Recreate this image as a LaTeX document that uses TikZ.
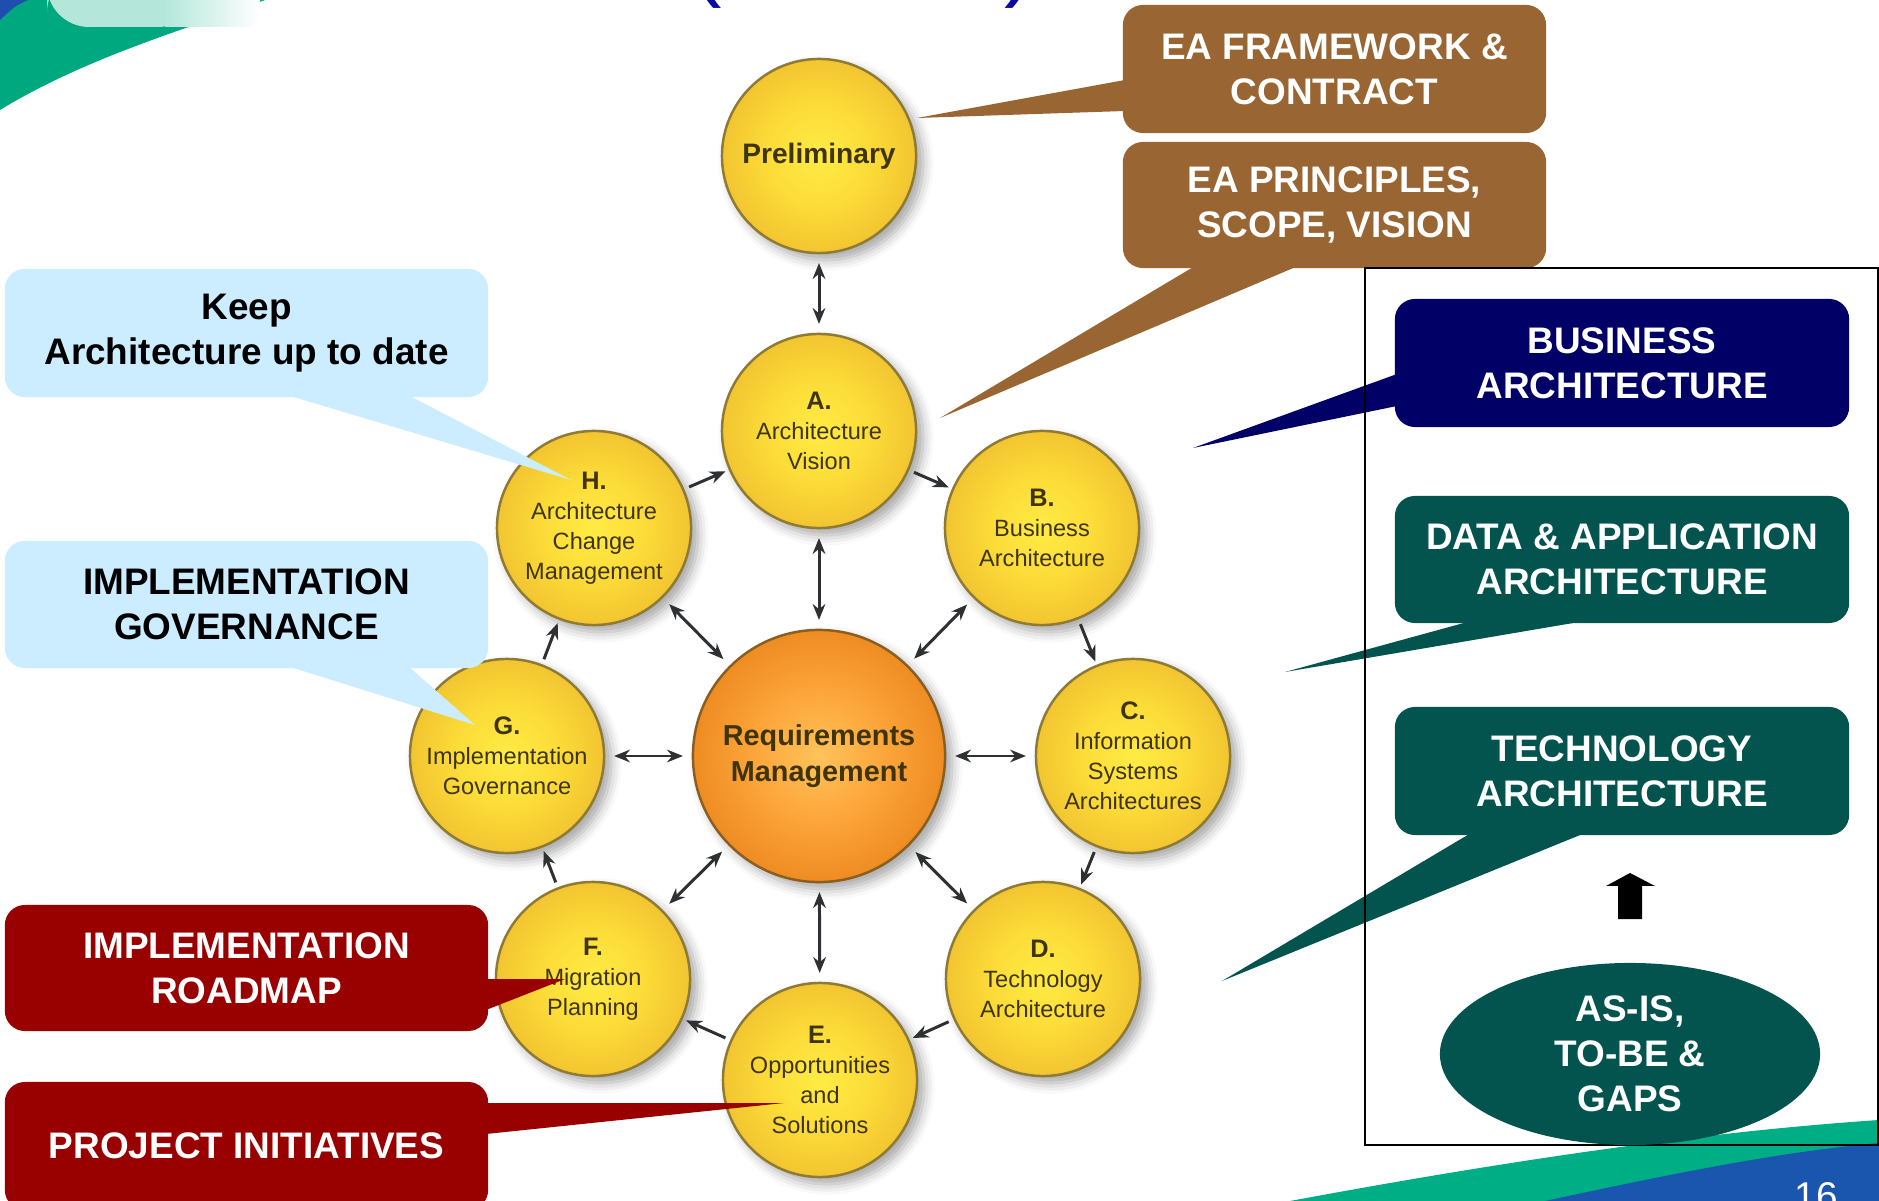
\documentclass[tikz,border=0pt]{standalone}
\usepackage{fontspec}
\setmainfont{Liberation Sans}
\usetikzlibrary{arrows.meta,shapes.geometric,shadows.blur}
\definecolor{eabrown}{HTML}{996633}
\definecolor{keepblue}{HTML}{CCECFF}
\definecolor{darkred}{HTML}{990000}
\definecolor{navyc}{HTML}{000066}
\definecolor{tealc}{HTML}{03544F}
\definecolor{circedge}{HTML}{8C7A35}
\definecolor{circtext}{HTML}{3F3408}
\definecolor{ballin}{HTML}{FFEB45}
\definecolor{ballmid}{HTML}{FCDC38}
\definecolor{ballout}{HTML}{F2C531}
\definecolor{reqin}{HTML}{FFC35A}
\definecolor{reqmid}{HTML}{FCA53A}
\definecolor{reqout}{HTML}{EE8C22}
\definecolor{reqedge}{HTML}{8A5E20}
\definecolor{arrowgray}{HTML}{2E3033}
\definecolor{swgreen}{HTML}{00AE85}
\definecolor{tlgreen}{HTML}{00A880}
\definecolor{swblue}{HTML}{1A56AD}
\definecolor{cornerblue}{HTML}{1E4FB0}
\definecolor{paleteal}{HTML}{B4E7DA}
\definecolor{titleblue}{HTML}{0A0AA0}
\pgfdeclareradialshading{ballsh}{\pgfpoint{0bp}{0bp}}{color(0bp)=(ballin); color(13bp)=(ballmid); color(25bp)=(ballout); color(50bp)=(ballout)}
\pgfdeclareradialshading{reqsh}{\pgfpoint{0bp}{0bp}}{color(0bp)=(reqin); color(13bp)=(reqmid); color(25bp)=(reqout); color(50bp)=(reqout)}
\begin{document}
\begin{tikzpicture}[x=0.01cm, y=-0.01cm,
  sat/.style={circle, minimum size=1.94cm, inner sep=0pt, draw=circedge, line width=0.7pt,
    shade, shading=ballsh,
    blur shadow={shadow xshift=2pt, shadow yshift=-2pt, shadow blur radius=3pt, shadow opacity=35},
    text=circtext, align=center, font=\fontsize{6.7}{8.5}\selectfont},
  req/.style={sat, minimum size=2.52cm, draw=reqedge, shading=reqsh,
    font=\bfseries\fontsize{8.2}{10.2}\selectfont},
  arr/.style={-{Stealth[length=4.5pt,width=3.6pt]}, line width=0.85pt, draw=arrowgray,
    shorten <=1.5pt, shorten >=1pt},
  dblarr/.style={{Stealth[length=4.5pt,width=3.6pt]}-{Stealth[length=4.5pt,width=3.6pt]},
    line width=0.85pt, draw=arrowgray, shorten <=2.5pt, shorten >=2.5pt},
  callout/.style={rounded corners=0.2cm, inner sep=0pt, align=center,
    font=\bfseries\fontsize{10.5}{12.8}\selectfont},
  leftbox/.style={callout, minimum width=4.83cm, minimum height=1.27cm},
  rightbox/.style={callout, minimum width=4.54cm, minimum height=1.28cm, text=white},
  topbox/.style={callout, minimum width=4.23cm, minimum height=1.27cm, text=white, fill=eabrown}
]
\useasboundingbox (0,0) rectangle (1879,1201);
\clip (0,0) rectangle (1879,1201);

% ---- background decorations ----
\fill[tlgreen] (0,0) -- (265,0) .. controls (200,25) and (90,55) .. (0,110) -- cycle;
\fill[cornerblue] (0,0) -- (28,0) .. controls (15,6) .. (0,20) -- cycle;
\fill[paleteal, rounded corners=12] (47,-30) rectangle (200,27);
\shade[left color=paleteal, right color=white] (165,-30) rectangle (260,27);
\node[anchor=south, inner sep=0pt, text=titleblue, font=\fontsize{26}{28}\selectfont] (lpar) at (707,9) {(};
\node[anchor=south, inner sep=0pt, text=titleblue, font=\fontsize{26}{28}\selectfont] (rpar) at (1020,9) {)};
\fill[swgreen] (1290,1201) .. controls (1500,1162) and (1700,1132) .. (1879,1120) -- (1879,1201) -- cycle;
\fill[swblue] (1545,1201) .. controls (1680,1172) and (1780,1152) .. (1879,1143) -- (1879,1201) -- cycle;
\node[anchor=base, inner sep=0pt, text=white, font=\fontsize{11}{13}\selectfont] (pg) at (1816,1209) {16};

% ---- ADM circles ----
\node[sat, font=\bfseries\fontsize{8}{10}\selectfont] (P) at (819,156) {Preliminary};
\node[sat] (A) at (819,431) {\textbf{\fontsize{7.2}{8.5}\selectfont A.}\\Architecture\\Vision};
\node[sat] (B) at (1042,528) {\textbf{\fontsize{7.2}{8.5}\selectfont B.}\\Business\\Architecture};
\node[sat] (C) at (1133,756) {\textbf{\fontsize{7.2}{8.5}\selectfont C.}\\Information\\Systems\\Architectures};
\node[sat] (D) at (1043,979) {\textbf{\fontsize{7.2}{8.5}\selectfont D.}\\Technology\\Architecture};
\node[sat] (E) at (820,1080) {\textbf{\fontsize{7.2}{8.5}\selectfont E.}\\Opportunities\\and\\Solutions};
\node[sat] (F) at (593,979) {\textbf{\fontsize{7.2}{8.5}\selectfont F.}\\Migration\\Planning};
\node[sat] (G) at (507,756) {\textbf{\fontsize{7.2}{8.5}\selectfont G.}\\Implementation\\Governance};
\node[sat] (H) at (594,528) {\textbf{\fontsize{7.2}{8.5}\selectfont H.}\\Architecture\\Change\\Management};
\node[req] (R) at (819,756) {Requirements\\Management};

\draw[dblarr] (P) -- (A);
\foreach \n in {A,B,C,D,E,F,G,H} { \draw[dblarr] (R) -- (\n); }
\draw[arr] (A) -- (B);
\draw[arr] (B) -- (C);
\draw[arr] (C) -- (D);
\draw[arr] (D) -- (E);
\draw[arr] (E) -- (F);
\draw[arr] (F) -- (G);
\draw[arr] (G) -- (H);
\draw[arr] (H) -- (A);

% ---- left callouts ----
\fill[keepblue] (287,395) -- (571,480) -- (408,395) -- cycle;
\node[leftbox, fill=keepblue, text=black, minimum height=1.28cm] (keep) at (246.5,333) {Keep\\Architecture up to date};
\fill[keepblue] (287,666) -- (475,725) -- (408,666) -- cycle;
\node[leftbox, fill=keepblue, text=black] (gov) at (246.5,604.5) {IMPLEMENTATION\\GOVERNANCE};
\fill[darkred] (486,979) -- (565,979) -- (486,1010) -- cycle;
\node[leftbox, fill=darkred, text=white, minimum height=1.26cm] (road) at (246.5,968) {IMPLEMENTATION\\ROADMAP};
\fill[darkred] (486,1103) -- (784,1103) -- (486,1134) -- cycle;
\node[leftbox, fill=darkred, text=white, minimum height=1.28cm] (proj) at (246.5,1146) {PROJECT INITIATIVES};

% ---- top callouts ----
\fill[eabrown] (1125,80) -- (917,118) -- (1125,111) -- cycle;
\node[topbox, minimum height=1.28cm] (fw) at (1334.5,69) {EA FRAMEWORK \&\\CONTRACT};
\fill[eabrown] (1195,266) -- (940,418) -- (1298,266) -- cycle;
\node[topbox, minimum height=1.26cm] (ps) at (1334.5,205) {EA PRINCIPLES,\\SCOPE, VISION};

% ---- right panel ----
\fill[navyc] (1397,374) -- (1193,448) -- (1397,406) -- cycle;
\node[rightbox, fill=navyc] (bus) at (1622,363) {BUSINESS\\ARCHITECTURE};
\fill[tealc] (1471,621) -- (1285,672) -- (1585,621) -- cycle;
\node[rightbox, fill=tealc, minimum height=1.27cm] (data) at (1622,559.5) {DATA \& APPLICATION\\ARCHITECTURE};
\fill[tealc] (1471,833) -- (1222,981) -- (1585,833) -- cycle;
\node[rightbox, fill=tealc] (tech) at (1622,771) {TECHNOLOGY\\ARCHITECTURE};
\draw[black, line width=0.6pt] (1365,268) rectangle (1878,1145);
\fill[black] (1618,919) -- (1642,919) -- (1642,886) -- (1655,886) -- (1630,873) -- (1606,886) -- (1618,886) -- cycle;
\node[ellipse, fill=tealc, text=white, minimum width=3.8cm, minimum height=1.82cm, inner sep=0pt,
  align=center, font=\bfseries\fontsize{10.5}{12.8}\selectfont] (gaps) at (1630,1054) {AS-IS,\\TO-BE \&\\GAPS};
\end{tikzpicture}
\end{document}
